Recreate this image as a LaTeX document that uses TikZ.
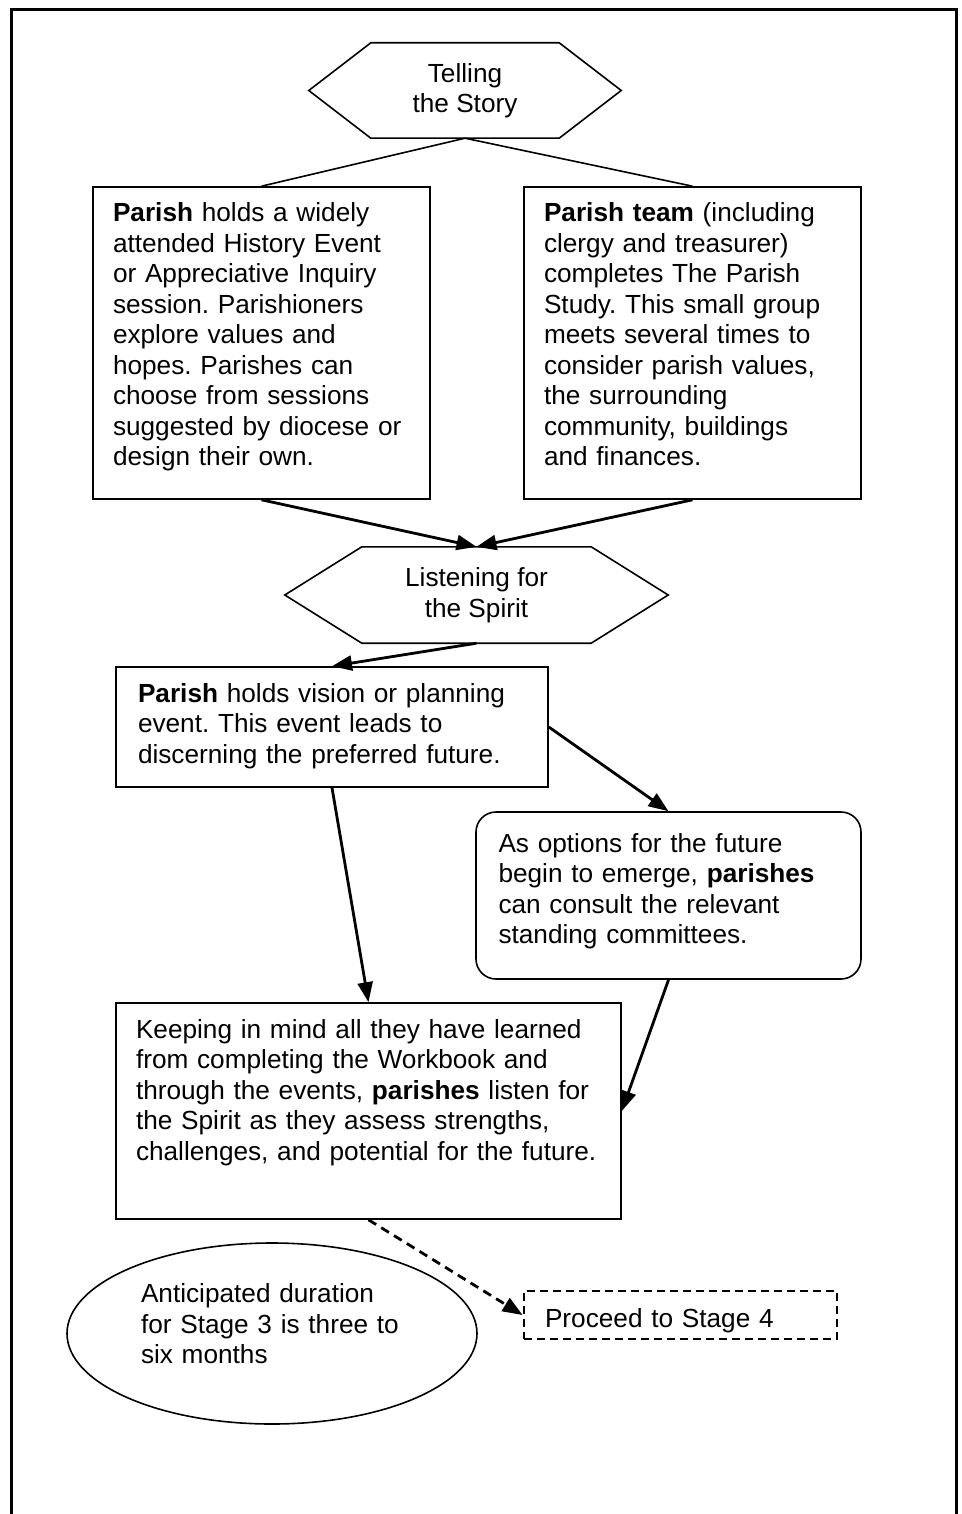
\documentclass[tikz,border=0pt]{standalone}
\usepackage{fontspec}
\setmainfont{Liberation Sans}
\usetikzlibrary{arrows.meta,shapes.geometric}
\frenchspacing
\tikzstyle{every node}=[font=\fontsize{26.2}{30.5}\selectfont]
\tikzstyle{hexnode}=[inner sep=0pt,align=center]
\tikzstyle{txtbox}=[draw=black,line width=1.6pt,align=left,inner xsep=20pt,inner ysep=14pt,text height=21pt]
\tikzstyle{roundbox}=[txtbox,rounded corners=20pt]
\tikzstyle{dashbox}=[txtbox,dash pattern=on 8pt off 5pt,line width=2.8pt]
\tikzstyle{ovalnode}=[draw=black,line width=1.6pt,ellipse,inner sep=0pt,align=left]
\tikzstyle{hexline}=[line width=1.6pt,line join=miter]
\tikzstyle{flowarrow}=[line width=2.8pt,-{Triangle[length=20pt,width=15pt]}]
\tikzstyle{dasharrow}=[flowarrow,dash pattern=on 9pt off 6pt]

\begin{document}
\begin{tikzpicture}[x=1pt,y=-1pt]
	\useasboundingbox (0,0) rectangle (961,1514);
	\draw[line width=3pt] (11,1514) -- (11,10) -- (956,10) -- (956,1514);

	\node[hexnode,minimum width=312pt,minimum height=95pt] (tell) at (465,90.5) {Telling\\the Story};
	\node[txtbox,text width=297pt,text depth=263pt] (parish) at (261.5,343) {\textbf{Parish} holds a widely\\attended History Event\\or Appreciative Inquiry\\session. Parishioners\\explore values and\\hopes. Parishes can\\choose from sessions\\suggested by diocese or\\design their own.};
	\node[txtbox,text width=297pt,text depth=263pt] (team) at (692.5,343) {\textbf{Parish team} (including\\clergy and treasurer)\\completes The Parish\\Study. This small group\\meets several times to\\consider parish values,\\the surrounding\\community, buildings\\and finances.};
	\node[hexnode,minimum width=383pt,minimum height=96pt] (listen) at (476.5,595) {Listening for\\the Spirit};
	\node[txtbox,inner xsep=22pt,text width=388pt,text depth=71pt] (vision) at (332,727) {\textbf{Parish} holds vision or planning\\event. This event leads to\\discerning the preferred future.};
	\node[roundbox,inner xsep=22.5pt,text width=340pt,text height=26pt,text depth=113pt] (options) at (668.5,895.5) {As options for the future\\begin to emerge, \textbf{parishes}\\can consult the relevant\\standing committees.};
	\node[txtbox,text width=465pt,text depth=167pt] (assess) at (368.5,1111) {Keeping in mind all they have learned\\from completing the Workbook and\\through the events, \textbf{parishes} listen for\\the Spirit as they assess strengths,\\challenges, and potential for the future.};
	\node[ovalnode,minimum width=410pt,minimum height=181pt,text width=262pt,text height=21pt,text depth=83pt] (duration) at (272,1333.5) {Anticipated duration\\for Stage 3 is three to\\six months};
	\node[dashbox,inner xsep=21pt,inner ysep=12pt,text width=271pt,text height=24pt,text depth=0pt] (stage) at (680.5,1315) {Proceed to Stage 4};

	\draw[hexline] (tell.west) -- ([xshift=62pt]tell.north west) -- ([xshift=-62pt]tell.north east) -- (tell.east) -- ([xshift=-62pt]tell.south east) -- ([xshift=62pt]tell.south west) -- cycle;
	\draw[hexline] (listen.west) -- ([xshift=77pt]listen.north west) -- ([xshift=-77pt]listen.north east) -- (listen.east) -- ([xshift=-77pt]listen.south east) -- ([xshift=77pt]listen.south west) -- cycle;

	\draw[hexline] (tell.south) -- (parish.north);
	\draw[hexline] (tell.south) -- (team.north);
	\draw[flowarrow] (parish.south) -- (listen.north);
	\draw[flowarrow] (team.south) -- (listen.north);
	\draw[flowarrow] (listen.south) -- (vision.north);
	\draw[flowarrow] (vision.east) -- (options.north);
	\draw[flowarrow] (vision.south) -- (assess.north);
	\draw[flowarrow] (options.south) -- (assess.east);
	\draw[dasharrow] (assess.south) -- (stage.west);
\end{tikzpicture}
\end{document}
